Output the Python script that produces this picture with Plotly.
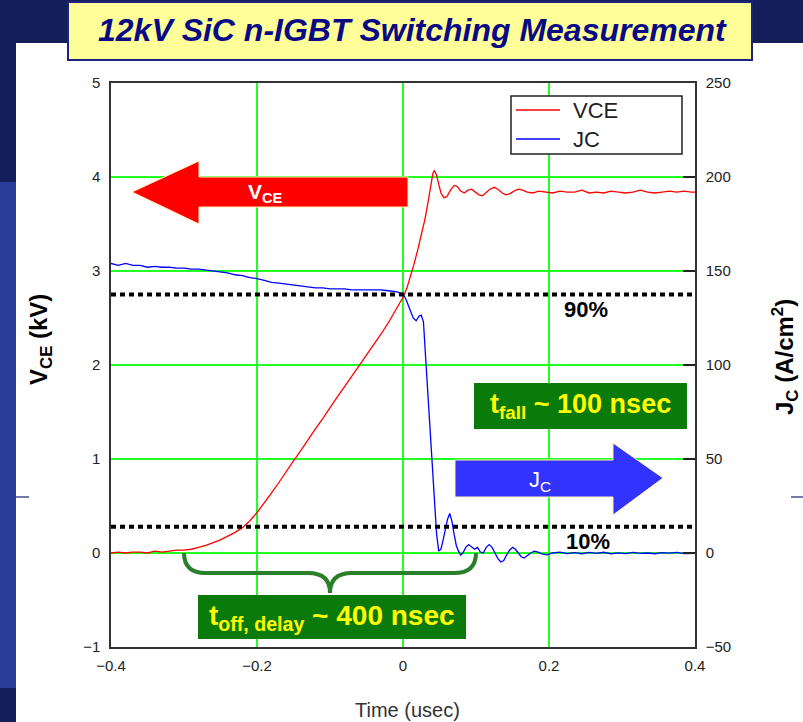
import plotly.graph_objects as go

# ---- measured waveforms -------------------------------------------------
# collector-emitter voltage (kV) vs time (usec)
vce_t = [-0.400, -0.390, -0.380, -0.370, -0.360, -0.350, -0.340, -0.330, -0.320, -0.310,
         -0.300, -0.290, -0.280, -0.270, -0.260, -0.250, -0.240, -0.230, -0.220, -0.210,
         -0.200, -0.190, -0.180, -0.170, -0.160, -0.150, -0.140, -0.130, -0.120, -0.110,
         -0.100, -0.090, -0.080, -0.070, -0.060, -0.050, -0.040, -0.030, -0.020, -0.010,
         0.000, 0.005, 0.010, 0.015, 0.020, 0.025, 0.030, 0.034, 0.038, 0.041,
         0.043, 0.046, 0.049, 0.052, 0.056, 0.060, 0.065, 0.070, 0.074, 0.079,
         0.084, 0.089, 0.094, 0.099, 0.104, 0.109, 0.114, 0.119, 0.125, 0.130,
         0.136, 0.141, 0.146, 0.152, 0.158, 0.164, 0.170, 0.178, 0.186, 0.195,
         0.205, 0.215, 0.225, 0.235, 0.245, 0.255, 0.265, 0.275, 0.285, 0.295,
         0.305, 0.315, 0.325, 0.335, 0.345, 0.355, 0.365, 0.375, 0.385, 0.395, 0.400]
vce_kv = [0.00, 0.01, 0.00, 0.01, 0.01, 0.00, 0.02, 0.01, 0.02, 0.03,
          0.03, 0.04, 0.06, 0.08, 0.11, 0.14, 0.18, 0.22, 0.27, 0.34,
          0.43, 0.53, 0.64, 0.75, 0.87, 0.98, 1.09, 1.21, 1.32, 1.43,
          1.55, 1.66, 1.77, 1.88, 1.99, 2.10, 2.22, 2.33, 2.45, 2.58,
          2.72, 2.81, 2.93, 3.07, 3.22, 3.38, 3.55, 3.72, 3.90, 4.04,
          4.07, 4.02, 3.92, 3.83, 3.78, 3.79, 3.86, 3.91, 3.90, 3.85,
          3.83, 3.86, 3.87, 3.84, 3.81, 3.80, 3.83, 3.87, 3.89, 3.87,
          3.83, 3.81, 3.82, 3.85, 3.87, 3.86, 3.84, 3.83, 3.85, 3.84,
          3.83, 3.85, 3.84, 3.84, 3.86, 3.83, 3.84, 3.83, 3.85, 3.84,
          3.83, 3.84, 3.86, 3.84, 3.83, 3.84, 3.85, 3.84, 3.85, 3.84, 3.84]

# collector current density (A/cm^2) vs time (usec)
jc_t = [-0.400, -0.390, -0.380, -0.370, -0.360, -0.350, -0.340, -0.330, -0.320, -0.310,
        -0.300, -0.290, -0.280, -0.270, -0.260, -0.250, -0.240, -0.230, -0.220, -0.210,
        -0.200, -0.190, -0.180, -0.170, -0.160, -0.150, -0.140, -0.130, -0.120, -0.110,
        -0.100, -0.090, -0.080, -0.070, -0.060, -0.050, -0.040, -0.030, -0.020, -0.010,
        0.000, 0.005, 0.010, 0.014, 0.018, 0.022, 0.025, 0.028, 0.031, 0.034,
        0.037, 0.040, 0.043, 0.046, 0.049, 0.052, 0.055, 0.058, 0.061, 0.064,
        0.067, 0.070, 0.073, 0.076, 0.079, 0.082, 0.086, 0.090, 0.094, 0.098,
        0.102, 0.106, 0.110, 0.114, 0.118, 0.122, 0.126, 0.130, 0.134, 0.138,
        0.142, 0.146, 0.150, 0.154, 0.158, 0.162, 0.166, 0.170, 0.175, 0.180,
        0.185, 0.190, 0.197, 0.205, 0.215, 0.225, 0.235, 0.245, 0.255, 0.265,
        0.275, 0.285, 0.295, 0.305, 0.315, 0.325, 0.335, 0.345, 0.355, 0.365,
        0.375, 0.385, 0.395, 0.400]
jc_acm2 = [154.0, 153.0, 154.0, 153.0, 153.0, 152.0, 152.5, 152.0, 152.0, 151.5,
           151.5, 151.0, 151.0, 150.5, 150.0, 149.5, 149.0, 148.0, 147.5, 146.5,
           146.0, 145.0, 144.0, 143.5, 143.0, 142.5, 142.0, 141.5, 141.0, 141.0,
           140.5, 140.5, 140.5, 140.0, 140.0, 140.0, 140.0, 140.0, 139.5, 139.0,
           138.0, 134.0, 129.0, 125.0, 123.5, 126.0, 126.5, 123.0, 104.0, 85.0,
           66.0, 47.0, 28.0, 10.0, 1.0, 2.0, 7.0, 12.0, 18.0, 21.0,
           17.0, 10.0, 4.0, 1.0, -1.0, 0.0, 3.0, 4.5, 3.0, 2.0,
           3.0, 0.5, 0.0, 3.0, 4.5, 3.0, 0.0, -3.0, -4.8, -4.0,
           -1.0, 1.5, 3.0, 2.0, 0.0, -2.0, -2.7, -1.5, 0.0, 1.0,
           0.5, -0.5, -1.0, 0.0, 0.5, -0.3, 0.2, -0.4, 0.3, -0.2,
           0.4, -0.5, 0.1, -0.3, 0.3, -0.2, 0.0, -0.4, 0.2, -0.1,
           0.3, -0.3, 0.0, -0.2]

# threshold levels on the voltage axis (kV)
level_90 = 2.75
level_10 = 0.28
# turn-off delay interval (usec)
delay_start, delay_end = -0.3, 0.1

# ---- page geometry -------------------------------------------------------
W, H = 803, 722
PL, PR, PT, PB = 111, 695, 83, 647   # plot-area edges in pixels


def pp(x, y):
    """pixel position -> paper coordinates"""
    return (x - PL) / (PR - PL), (PB - y) / (PB - PT)


def poly(points):
    parts = []
    for i, (x, y) in enumerate(points):
        u, v = pp(x, y)
        parts.append(("M" if i == 0 else "L") + f"{u:.5f},{v:.5f}")
    return " ".join(parts) + " Z"


def rect(x0, y0, x1, y1, fill, line_color=None, line_width=0, layer="above"):
    u0, v0 = pp(x0, y0)
    u1, v1 = pp(x1, y1)
    return dict(type="rect", xref="paper", yref="paper", x0=u0, y0=v0, x1=u1, y1=v1,
                fillcolor=fill, line=dict(color=line_color or fill, width=line_width),
                layer=layer)


def hline(x0, x1, y, color, width, layer="above"):
    u0, v = pp(x0, y)
    u1, _ = pp(x1, y)
    return dict(type="line", xref="paper", yref="paper", x0=u0, y0=v, x1=u1, y1=v,
                line=dict(color=color, width=width), layer=layer)


def label(x, y, text, size, color, family="Liberation Sans, Arial, sans-serif",
          xanchor="center", angle=0):
    u, v = pp(x, y)
    return dict(x=u, y=v, xref="paper", yref="paper", text=text, showarrow=False,
                xanchor=xanchor, yanchor="middle", textangle=angle,
                font=dict(size=size, color=color, family=family))


NAVY = "#141e5a"
GRID = "#22ff22"
AXIS = "#333333"
BOX_GREEN = "#0a7a0a"
BRACE_GREEN = "#2a7f2a"

fig = go.Figure()
fig.add_trace(go.Scatter(x=vce_t, y=vce_kv, mode="lines", name="VCE",
                         line=dict(color="#ff0000", width=1.3)))
fig.add_trace(go.Scatter(x=jc_t, y=jc_acm2, mode="lines", name="JC", yaxis="y2",
                         line=dict(color="#0000ff", width=1.3)))

shapes = [
    # slide background
    rect(16, 43, W, H, "#ffffff", layer="below"),
    rect(0, 182, 16, 688, "#2a3d98", layer="below"),
    hline(16, 29, 497, "#18226a", 1.2, layer="below"),
    hline(791, W, 497, "#18226a", 1.2, layer="below"),
    # title panel
    rect(68, 2, 752, 60, "#ffff99", line_color="#1a237e", line_width=2),
    # 90 % / 10 % levels
    dict(type="line", xref="x", yref="y", x0=-0.4, x1=0.4, y0=level_90, y1=level_90,
         line=dict(color="#000000", width=4, dash="5px,4px")),
    dict(type="line", xref="x", yref="y", x0=-0.4, x1=0.4, y0=level_10, y1=level_10,
         line=dict(color="#000000", width=4, dash="5px,4px")),
    # VCE arrow (pointing left)
    dict(type="path", xref="paper", yref="paper",
         path=poly([(132, 192), (199, 161), (199, 177), (408, 177), (408, 207),
                    (199, 207), (199, 224)]),
         fillcolor="#ff0000", line=dict(color="#fff2b0", width=1)),
    # JC arrow (pointing right)
    dict(type="path", xref="paper", yref="paper",
         path=poly([(455, 460), (613, 460), (613, 443), (663, 478), (613, 515),
                    (613, 497), (455, 497)]),
         fillcolor="#3333ff", line=dict(color="#fff2b0", width=1)),
    # annotation boxes
    rect(474, 383, 687, 429, BOX_GREEN),
    rect(198, 595, 466, 639, BOX_GREEN),
    # legend frame and keys
    rect(511, 96, 682, 154, "#ffffff", line_color="#222222", line_width=1.5),
    hline(516, 560, 110, "#ff0000", 1.3),
    hline(516, 560, 139, "#0000ff", 1.3),
]

# curly brace spanning the turn-off delay
mid = (delay_start + delay_end) / 2
bar, tip, r = -0.213, -0.426, 0.03
brace = (f"M{delay_start},0 Q{delay_start},{bar} {delay_start + r},{bar} "
         f"L{mid - r},{bar} Q{mid},{bar} {mid},{tip} "
         f"Q{mid},{bar} {mid + r},{bar} L{delay_end - r},{bar} "
         f"Q{delay_end},{bar} {delay_end},0")
shapes.append(dict(type="path", xref="x", yref="y", path=brace,
                   line=dict(color=BRACE_GREEN, width=4)))

NARROW = "Liberation Sans Narrow, Liberation Sans, Arial, sans-serif"

annotations = [
    label(412, 30, "<b><i>12kV SiC n-IGBT Switching Measurement</i></b>", 32, "#0a0a85"),
    label(265, 193, "<b>V<sub>CE</sub></b>", 21, "#ffffff"),
    label(540, 481, "J<sub>C</sub>", 22, "#ffffff"),
    label(586, 309, "<b>90%</b>", 22, "#000000"),
    label(588, 541, "<b>10%</b>", 22, "#000000"),
    label(580, 406, "<b>t<sub>fall</sub> ~ 100 nsec</b>", 27, "#ffff00"),
    label(332, 617, "<b>t<sub>off, delay</sub> ~ 400 nsec</b>", 28, "#ffff00",
          family=NARROW),
    label(571, 110, "VCE", 22, "#222222", xanchor="left"),
    label(571, 139, "JC", 22, "#222222", xanchor="left"),
    label(40, 340, "<b>V<sub>CE</sub> (kV)</b>", 24, "#000000", angle=-90),
    label(785, 357, "<b>J<sub>C</sub> (A/cm<sup>2</sup>)</b>", 24, "#000000", angle=-90),
    label(407, 710, "Time (usec)", 20, "#333333"),
]

tick_font = dict(family="Liberation Sans, Arial, sans-serif", size=15, color="#222222")

fig.update_layout(
    width=W, height=H,
    margin=dict(l=PL, r=W - PR, t=PT, b=H - PB, pad=0),
    paper_bgcolor=NAVY,
    plot_bgcolor="rgba(0,0,0,0)",
    showlegend=False,
    shapes=shapes,
    annotations=annotations,
    xaxis=dict(range=[-0.4, 0.4], dtick=0.2, tick0=-0.4, showgrid=True,
               gridcolor=GRID, gridwidth=1.5, zeroline=True, zerolinecolor=GRID,
               zerolinewidth=1.5, showline=True, linecolor=AXIS, linewidth=1.5,
               mirror=True, ticks="", tickfont=tick_font, ticklabelstandoff=4),
    yaxis=dict(range=[-1, 5], dtick=1, showgrid=True, gridcolor=GRID, gridwidth=1.5,
               zeroline=True, zerolinecolor=GRID, zerolinewidth=1.5, showline=True,
               linecolor=AXIS, linewidth=1.5, mirror=True, ticks="",
               tickfont=tick_font, ticklabelstandoff=6),
    yaxis2=dict(range=[-50, 250], dtick=50, overlaying="y", side="right",
                showgrid=False, zeroline=False, showline=True, linecolor=AXIS,
                linewidth=1.5, ticks="inside", ticklen=12, tickwidth=1.5,
                tickcolor="#222222", tickfont=tick_font, ticklabelstandoff=6),
)

fig.write_html("out.html")
